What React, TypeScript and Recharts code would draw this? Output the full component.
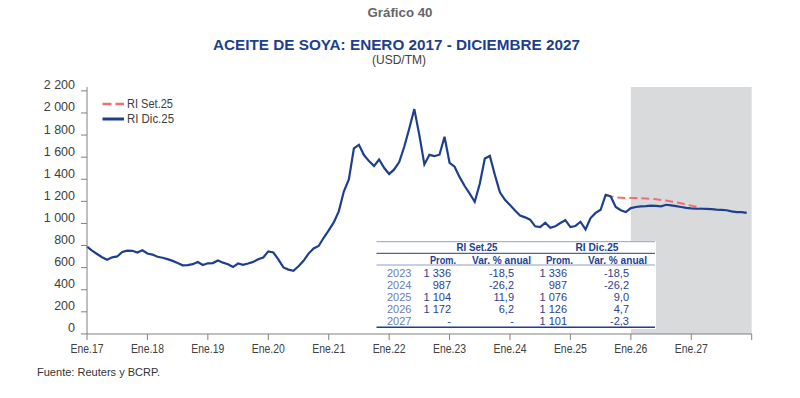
import { LineChart, Line, XAxis, YAxis, ReferenceArea } from "recharts";

// RI Dic.25: monthly USD/TM, Jan.17 - Dec.27 (forecast from Jan.26)
const riDic25 = [
  762, 726, 696, 667, 644, 666, 674, 714, 726, 725, 710, 730, // 2017
  701, 691, 671, 662, 650, 634, 614, 594, 596, 604, 624, 597, // 2018
  612, 614, 638, 618, 604, 578, 610, 598, 610, 625, 649, 665, // 2019
  720, 710, 648, 575, 555, 544, 585, 634, 700, 746, 769, 843, // 2020
  910, 982, 1082, 1262, 1372, 1652, 1684, 1592, 1537, 1492, 1552, 1477, // 2021
  1420, 1462, 1528, 1667, 1832, 2008, 1772, 1507, 1594, 1583, 1595, 1758, // 2022
  1522, 1486, 1392, 1312, 1242, 1169, 1332, 1560, 1584, 1412, 1254, 1187, // 2023
  1139, 1090, 1045, 1028, 1007, 947, 940, 980, 934, 947, 977, 1002, // 2024
  940, 950, 988, 919, 1022, 1068, 1097, 1232, 1217, 1122, 1092, 1076, // 2025
  1112, 1122, 1127, 1129, 1134, 1132, 1127, 1142, 1137, 1130, 1122, 1114, // 2026
  1109, 1106, 1106, 1105, 1102, 1098, 1096, 1092, 1082, 1076, 1076, 1068, // 2027
];

// RI Set.25 forecast, starts at Ago.25 (month index 103)
const SET_START = 103;
const riSet25 = [
  1232, 1218, 1210, 1206, 1203, 1203, 1203, 1202, 1199, 1196, 1192, 1186,
  1180, 1172, 1164, 1156, 1144, 1134, 1124, 1110,
];

const FORECAST_START = 108;
const xTicks = [0, 12, 24, 36, 48, 60, 72, 84, 96, 108, 120, 132];
const xTickLabels = [
  "Ene.17", "Ene.18", "Ene.19", "Ene.20", "Ene.21", "Ene.22",
  "Ene.23", "Ene.24", "Ene.25", "Ene.26", "Ene.27", "",
];
const yTicks = [0, 200, 400, 600, 800, 1000, 1200, 1400, 1600, 1800, 2000, 2200];

const tableYears = ["2023", "2024", "2025", "2026", "2027"];
const setProm = ["1 336", "987", "1 104", "1 172", "-"];
const setVar = ["-18,5", "-26,2", "11,9", "6,2", "-"];
const dicProm = ["1 336", "987", "1 076", "1 126", "1 101"];
const dicVar = ["-18,5", "-26,2", "9,0", "4,7", "-2,3"];

const BLUE = "#1d3f8e";
const RED = "#f07070";
const AXIS = "#808080";
const FONT = "'Liberation Sans', Arial, sans-serif";

const rows = riDic25.map((v, i) => ({
  i,
  dic: v,
  set: i >= SET_START && i < SET_START + riSet25.length ? riSet25[i - SET_START] : null,
}));

function fmt(v: number) {
  if (v < 1000) return String(v);
  return `${Math.floor(v / 1000)} ${String(v % 1000).padStart(3, "0")}`;
}

function YTick({ y, payload }: any) {
  return (
    <g>
      <line x1={81} x2={87} y1={y + 3} y2={y + 3} stroke={AXIS} />
      <text
        x={75}
        y={y - 2.5}
        textAnchor="end"
        dominantBaseline="central"
        fontSize={12.5}
        fontFamily={FONT}
        fill="#404040"
      >
        {fmt(payload.value)}
      </text>
    </g>
  );
}

function XTick({ x, payload }: any) {
  const label = xTickLabels[xTicks.indexOf(payload.value)];
  if (!label) return null;
  return (
    <text
      x={x}
      y={349}
      textAnchor="middle"
      dominantBaseline="central"
      fontSize={12.5}
      fontFamily={FONT}
      fill="#404040"
      textLength={33}
      lengthAdjust="spacingAndGlyphs"
    >
      {label}
    </text>
  );
}

const rowY = [272.7, 284.5, 296.7, 309, 320.7];

function Table() {
  const val = { fontSize: 11, fontFamily: FONT, fill: "#2b428f", dominantBaseline: "central" } as const;
  const hdr = { fontSize: 11, fontFamily: FONT, fill: BLUE, fontWeight: 700, dominantBaseline: "central" } as const;
  return (
    <g>
      <rect x={376} y={241} width={280} height={88} fill="#ffffff" />
      <line x1={376.5} x2={655} y1={241.7} y2={241.7} stroke="#8e9fd1" strokeWidth={1} />
      <line x1={376.5} x2={655} y1={253.3} y2={253.3} stroke={BLUE} strokeWidth={1} />
      <line x1={376.5} x2={655} y1={265} y2={265} stroke="#8e9fd1" strokeWidth={1} />
      <line x1={376.5} x2={655} y1={327.3} y2={327.3} stroke={BLUE} strokeWidth={1.6} />
      <text x={477} y={247} textAnchor="middle" {...hdr} textLength={41} lengthAdjust="spacingAndGlyphs">RI Set.25</text>
      <text x={597} y={247} textAnchor="middle" {...hdr} textLength={43} lengthAdjust="spacingAndGlyphs">RI Dic.25</text>
      <text x={443} y={259.5} textAnchor="middle" {...hdr} textLength={26} lengthAdjust="spacingAndGlyphs">Prom.</text>
      <text x={501.5} y={259.5} textAnchor="middle" {...hdr} textLength={59} lengthAdjust="spacingAndGlyphs">Var. % anual</text>
      <text x={559.5} y={259.5} textAnchor="middle" {...hdr} textLength={27} lengthAdjust="spacingAndGlyphs">Prom.</text>
      <text x={617.5} y={259.5} textAnchor="middle" {...hdr} textLength={59} lengthAdjust="spacingAndGlyphs">Var. % anual</text>
      {tableYears.map((yr, k) => (
        <g key={yr}>
          <text x={387} y={rowY[k]} {...val} fill="#6d7cb3">{yr}</text>
          <text x={451} y={rowY[k]} textAnchor="end" {...val}>{setProm[k]}</text>
          <text x={514} y={rowY[k]} textAnchor="end" {...val}>{setVar[k]}</text>
          <text x={567} y={rowY[k]} textAnchor="end" {...val}>{dicProm[k]}</text>
          <text x={629} y={rowY[k]} textAnchor="end" {...val}>{dicVar[k]}</text>
        </g>
      ))}
    </g>
  );
}

export default function App() {
  return (
    <div style={{ position: "absolute", left: 0, top: 0, width: 800, height: 398, background: "#fff" }}>
      <LineChart
        width={800}
        height={398}
        data={rows}
        margin={{ top: 87, right: 48.3, bottom: 0, left: 0 }}
      >
        <XAxis
          type="number"
          dataKey="i"
          domain={[0, 132]}
          ticks={xTicks}
          height={64}
          stroke={AXIS}
          tickSize={6}
          tick={<XTick />}
          interval={0}
        />
        <YAxis
          type="number"
          domain={[-28, 2208]}
          ticks={yTicks}
          width={87}
          stroke={AXIS}
          tickLine={false}
          tick={<YTick />}
          interval={0}
        />
        <ReferenceArea
          x1={FORECAST_START}
          x2={132}
          fill="#d9dadb"
          fillOpacity={1}
          stroke="none"
        />
        <Line
          type="linear"
          dataKey="set"
          stroke={RED}
          strokeWidth={2}
          strokeDasharray="8 4"
          dot={false}
          connectNulls={false}
          isAnimationActive={false}
        />
        <Line
          type="linear"
          dataKey="dic"
          stroke={BLUE}
          strokeWidth={2.2}
          dot={false}
          isAnimationActive={false}
        />
      </LineChart>
      <svg
        width={800}
        height={398}
        style={{ position: "absolute", left: 0, top: 0, pointerEvents: "none" }}
      >
        <text x={400} y={13} textAnchor="middle" dominantBaseline="central" fontFamily={FONT} fontWeight={700} fontSize={12} fill="#666666" textLength={65} lengthAdjust="spacingAndGlyphs">
          Gráfico 40
        </text>
        <text x={396.5} y={44} textAnchor="middle" dominantBaseline="central" fontFamily={FONT} fontWeight={700} fontSize={15.5} fill={BLUE} textLength={367} lengthAdjust="spacingAndGlyphs">
          ACEITE DE SOYA: ENERO 2017 - DICIEMBRE 2027
        </text>
        <text x={399} y={60} textAnchor="middle" dominantBaseline="central" fontFamily={FONT} fontSize={12} fill="#404040" textLength={54} lengthAdjust="spacingAndGlyphs">
          (USD/TM)
        </text>

        <line x1={102.5} x2={124} y1={104} y2={104} stroke={RED} strokeWidth={2.4} strokeDasharray="9 4" />
        <text x={127} y={104} dominantBaseline="central" fontFamily={FONT} fontSize={12.5} fill="#404040" textLength={46} lengthAdjust="spacingAndGlyphs">RI Set.25</text>
        <line x1={102.5} x2={124} y1={119} y2={119} stroke={BLUE} strokeWidth={3} />
        <text x={127} y={119} dominantBaseline="central" fontFamily={FONT} fontSize={12.5} fill="#404040" textLength={47} lengthAdjust="spacingAndGlyphs">RI Dic.25</text>

        <Table />

        <text x={37} y={372} dominantBaseline="central" fontFamily={FONT} fontSize={10.5} fill="#333333" textLength={123} lengthAdjust="spacingAndGlyphs">
          Fuente: Reuters y BCRP.
        </text>
      </svg>
    </div>
  );
}
